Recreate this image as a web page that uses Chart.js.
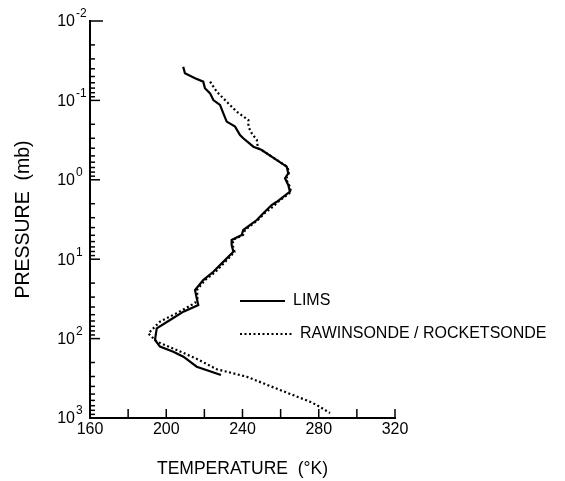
<!DOCTYPE html>
<html>
<head>
<meta charset="utf-8">
<script src="https://cdn.jsdelivr.net/npm/chart.js@4.4.0/dist/chart.umd.min.js"></script>
<style>
  html, body { margin: 0; padding: 0; background: #fff; }
  canvas { display: block; }
</style>
</head>
<body>
<canvas id="myChart" width="565" height="481"></canvas>
<script>
// LIMS profile: temperature (K) against pressure (mb)
const limsTemp = [208.9, 209.8, 215.1, 219.4, 220.3, 223.0, 224.7, 228.2, 229.9, 231.7, 236.1, 238.7,
  240.4, 245.7, 250.1, 258.0, 263.2, 264.0, 262.3, 264.0, 264.9, 258.0, 255.3, 250.9, 247.5, 240.4,
  239.6, 234.3, 234.3, 235.2, 229.9, 224.7, 219.4, 215.1, 216.0, 216.8, 209.0, 202.0, 195.0, 194.1,
  196.7, 203.7, 209.0, 216.0, 228.7];
const limsPres = [0.0377, 0.0456, 0.0527, 0.058, 0.0704, 0.0815, 0.0989, 0.114, 0.145, 0.185, 0.214, 0.273,
  0.30, 0.383, 0.421, 0.564, 0.684, 0.828, 0.957, 1.16, 1.41, 1.89, 2.08, 2.64, 3.21, 4.29,
  4.96, 5.73, 6.62, 8.05, 10.8, 14.4, 18.3, 24.5, 31.1, 37.8, 45.8, 58.3, 74.2, 104,
  126, 146, 169, 226, 287];

// rawinsonde / rocketsonde profile
const sondeTemp = [223.0, 226.5, 231.7, 237.0, 243.1, 243.1, 244.8, 247.5, 248.1, 250.8, 258.1, 263.6,
  264.4, 262.8, 264.7, 265.5, 258.6, 256.5, 251.8, 248.1, 241.3, 240.3, 235.0, 235.0, 235.8, 230.8,
  225.6, 220.3, 216.1, 216.4, 215.1, 205.5, 196.7, 190.6, 195.0, 205.5, 216.0, 226.5, 242.2, 259.7,
  275.4, 278.9, 285.9];
const sondePres = [0.058, 0.0776, 0.104, 0.139, 0.177, 0.214, 0.259, 0.315, 0.398, 0.434, 0.564, 0.69,
  0.82, 0.98, 1.2, 1.42, 1.9, 2.13, 2.62, 3.2, 4.3, 4.96, 5.7, 6.8, 8.1, 10.9,
  14.6, 18.3, 24.5, 30.8, 35.6, 47.8, 61.1, 86.3, 109, 139, 180, 243, 302, 444,
  623, 686, 865];

const seriesNames = ["LIMS", "RAWINSONDE / ROCKETSONDE"];
const tempTicks = [160, 200, 240, 280, 320];
const decadeExps = [-2, -1, 0, 1, 2, 3];

const FONT = "'Liberation Sans', Arial, Helvetica, sans-serif";
const INK = "#000";

function toPoints(temps, pres) {
  return temps.map((t, i) => ({ x: t, y: pres[i] }));
}

// tick marks, decade labels and the in-plot legend
const decorPlugin = {
  id: "decor",
  afterDraw(chart) {
    const ctx = chart.ctx;
    const xs = chart.scales.x;
    const ys = chart.scales.y;
    const left = chart.chartArea.left;
    const bottom = chart.chartArea.bottom;
    ctx.save();
    ctx.strokeStyle = INK;
    ctx.lineWidth = 1.5;

    // y ticks: majors and minors, pointing inward
    decadeExps.forEach(e => {
      const major = Math.pow(10, e);
      if (e < 3) {
        const py = ys.getPixelForValue(major);
        ctx.beginPath();
        ctx.moveTo(left, py);
        ctx.lineTo(left + (e === -2 ? 13 : 10), py);
        ctx.stroke();
        for (let k = 2; k <= 9; k++) {
          const my = ys.getPixelForValue(k * major);
          ctx.beginPath();
          ctx.moveTo(left, my);
          ctx.lineTo(left + 5, my);
          ctx.stroke();
        }
      }
    });

    // x ticks every 20 K, pointing up
    for (let t = 180; t <= 320; t += 20) {
      const px = xs.getPixelForValue(t);
      ctx.beginPath();
      ctx.moveTo(px, bottom);
      ctx.lineTo(px, bottom - 9);
      ctx.stroke();
    }

    // decade labels 10^n
    ctx.fillStyle = INK;
    ctx.textBaseline = "middle";
    decadeExps.forEach(e => {
      const py = ys.getPixelForValue(Math.pow(10, e));
      ctx.font = "16px " + FONT;
      ctx.textAlign = "right";
      ctx.fillText("10", left - 15, py + 1);
      ctx.font = "12px " + FONT;
      ctx.textAlign = "left";
      ctx.fillText(String(e), left - 14, py - 7);
    });

    // legend
    const rows = [{ y: 301, x1: 285 }, { y: 334, x1: 292 }];
    chart.data.datasets.forEach((ds, i) => {
      const r = rows[i];
      ctx.beginPath();
      ctx.lineWidth = ds.borderWidth;
      ctx.setLineDash(ds.borderDash || []);
      ctx.moveTo(240, r.y);
      ctx.lineTo(r.x1, r.y);
      ctx.stroke();
      ctx.setLineDash([]);
      ctx.font = "16px " + FONT;
      ctx.textAlign = "left";
      ctx.fillText(ds.label, r.x1 + 8, r.y);
    });
    ctx.restore();
  }
};

const ctx = document.getElementById("myChart").getContext("2d");
const chart = new Chart(ctx, {
  type: "line",
  data: {
    datasets: [
      {
        label: seriesNames[0],
        data: toPoints(limsTemp, limsPres),
        borderColor: INK,
        borderWidth: 2.2,
        pointRadius: 0,
        tension: 0,
        fill: false
      },
      {
        label: seriesNames[1],
        data: toPoints(sondeTemp, sondePres),
        borderColor: INK,
        borderWidth: 2.2,
        borderDash: [2, 2.5],
        pointRadius: 0,
        tension: 0,
        fill: false
      }
    ]
  },
  options: {
    responsive: false,
    animation: false,
    layout: { padding: { top: 21, right: 170, bottom: 0, left: 0 } },
    plugins: { legend: { display: false }, tooltip: { enabled: false } },
    scales: {
      x: {
        type: "linear",
        min: 160,
        max: 320,
        afterBuildTicks: s => { s.ticks = tempTicks.map(v => ({ value: v })); },
        ticks: {
          color: INK,
          font: { family: FONT, size: 16 },
          padding: 2,
          maxRotation: 0
        },
        grid: { display: false, drawTicks: false },
        border: { display: true, color: INK, width: 2 },
        title: {
          display: true,
          text: "TEMPERATURE  (°K)",
          color: INK,
          font: { family: FONT, size: 17.5 },
          padding: { top: 0, bottom: 1 }
        },
        afterFit: s => { s.height = 63; }
      },
      y: {
        type: "logarithmic",
        reverse: true,
        min: 0.01,
        max: 1000,
        ticks: { display: false },
        grid: { display: false, drawTicks: false },
        border: { display: true, color: INK, width: 2 },
        title: {
          display: true,
          text: "PRESSURE  (mb)",
          color: INK,
          font: { family: FONT, size: 19.5 },
          padding: { top: 12, bottom: 0 }
        },
        afterFit: s => { s.width = 90; }
      }
    }
  },
  plugins: [decorPlugin]
});
</script>
</body>
</html>
